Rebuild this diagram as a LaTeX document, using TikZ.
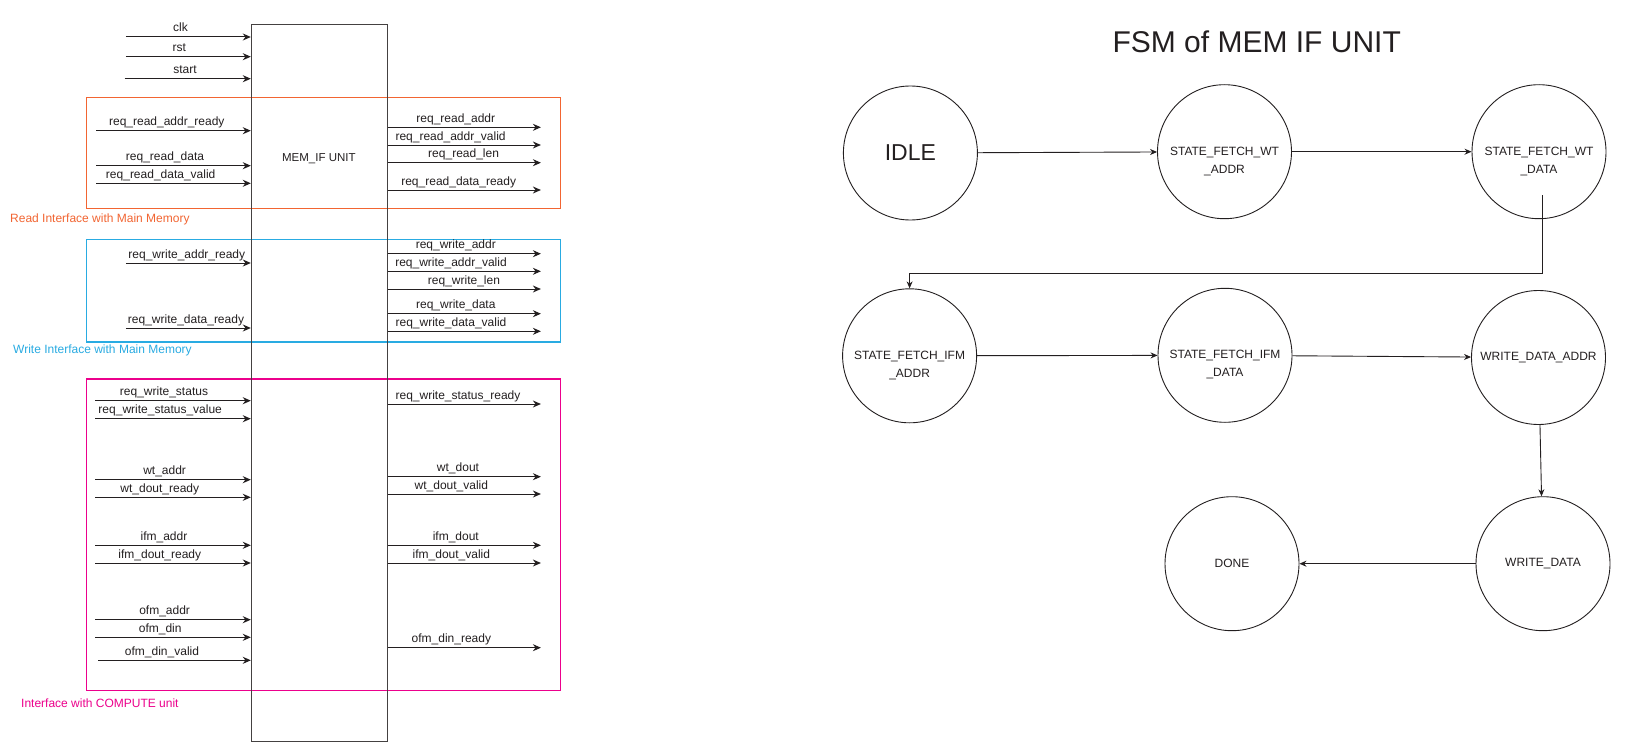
\documentclass[tikz,border=0pt]{standalone}
\usepackage{fontspec}
\setmainfont{Liberation Sans}
\usetikzlibrary{arrows.meta,calc}
\definecolor{rdcol}{RGB}{242,101,50}
\definecolor{wrcol}{RGB}{41,171,226}
\definecolor{cpcol}{RGB}{236,0,140}
\definecolor{ink}{RGB}{35,31,32}
\begin{document}
\begin{tikzpicture}[x=1pt,y=-1pt,
  sig/.style={ink, line width=1pt, -{Stealth[length=8pt,width=7pt]}},
  siglabel/.style={font=\fontsize{12}{14}\selectfont, text=ink, anchor=base, inner sep=0pt},
  grp/.style={line width=1.2pt, inner sep=0pt, anchor=north west},
  grplabel/.style={font=\fontsize{12}{14}\selectfont, anchor=west, inner sep=0pt},
  state/.style={circle, draw=ink, line width=0.9pt, minimum size=134pt, inner sep=0pt,
    align=center, text=ink, font=\fontsize{12}{18}\selectfont},
  trans/.style={ink, line width=0.9pt, -{Stealth[length=7pt,width=6pt]}}
]
\useasboundingbox (0,0) rectangle (1634,752);
\fill[white] (0,0) rectangle (1634,752);

% interface groups
\node[grp, draw=rdcol, minimum width=474.3pt, minimum height=111.3pt] (rdgrp) at (85.5,96.7) {};
\node[grp, draw=wrcol, minimum width=474.3pt, minimum height=102.6pt] (wrgrp) at (85.5,238.7) {};
\node[grp, draw=cpcol, minimum width=474.3pt, minimum height=311.7pt] (cpgrp) at (85.5,378.3) {};
\node[grplabel, text=rdcol] (rdlab) at (10,219) {Read Interface with Main Memory};
\node[grplabel, text=wrcol] (wrlab) at (13,350) {Write Interface with Main Memory};
\node[grplabel, text=cpcol] (cplab) at (21,703.3) {Interface with COMPUTE unit};

% main block
\node[draw=ink!85, line width=1.3pt, minimum width=135.8pt, minimum height=717.3pt,
  inner sep=0pt, anchor=north west] (memif) at (250.8,23.7) {};
\node[font=\fontsize{11.5}{14}\selectfont, text=ink] (memiftext) at (318.9,158.3) {MEM\_IF UNIT};

% inputs
\foreach \n/\xs/\yy/\lx/\txt in {
  1/125.8/37/180.5/clk,
  2/125.8/56.7/179.4/rst,
  3/124.7/78.7/185/start,
  4/96.2/130.7/166.8/req\_read\_addr\_ready,
  5/96.2/165.7/165/req\_read\_data,
  6/96.2/183.3/160.7/req\_read\_data\_valid,
  7/125.8/263/186.8/req\_write\_addr\_ready,
  8/125.8/328/186/req\_write\_data\_ready,
  9/95.4/400.7/164/req\_write\_status,
  10/95.4/418.7/160.2/req\_write\_status\_value,
  11/95.4/479.7/164.6/wt\_addr,
  12/95.4/497.3/159.8/wt\_dout\_ready,
  13/95.4/545.3/164/ifm\_addr,
  14/95.4/563/159.8/ifm\_dout\_ready,
  15/95.4/619.7/164.6/ofm\_addr,
  16/95.4/637.3/160.2/ofm\_din,
  17/98/660.3/162/ofm\_din\_valid}{
  \coordinate (in\n) at (\xs,\yy);
  \draw[sig] (in\n) -- (in\n -| memif.west);
  \node[siglabel] (inl\n) at (\lx,\yy-5) {\txt};
}

% outputs
\foreach \n/\yy/\lx/\txt in {
  1/127.3/455.8/req\_read\_addr,
  2/145/450.6/req\_read\_addr\_valid,
  3/162.7/463.6/req\_read\_len,
  4/190/458.7/req\_read\_data\_ready,
  5/253.7/455.8/req\_write\_addr,
  6/271.3/451/req\_write\_addr\_valid,
  7/289/464/req\_write\_len,
  8/313.7/455.8/req\_write\_data,
  9/331.3/451/req\_write\_data\_valid,
  10/404/458/req\_write\_status\_ready,
  11/476.7/458/wt\_dout,
  12/494/451.4/wt\_dout\_valid,
  13/545.3/455.8/ifm\_dout,
  14/563/451.4/ifm\_dout\_valid,
  15/647.7/451.4/ofm\_din\_ready}{
  \coordinate (out\n) at (540.9,\yy);
  \draw[sig] (out\n -| memif.east) -- (out\n);
  \node[siglabel] (outl\n) at (\lx,\yy-5) {\txt};
}

% FSM
\node[font=\fontsize{30}{36}\selectfont, text=ink] (title) at (1256.7,41.7) {FSM of MEM IF UNIT};

\node[state, font=\fontsize{23}{28}\selectfont] (idle) at (910.4,153) {IDLE};
\node[state] (wtaddr) at (1224.5,151.7) {\strut\\\strut STATE\_FETCH\_WT\\\strut\_ADDR};
\node[state] (wtdata) at (1539,151.7) {\strut\\\strut STATE\_FETCH\_WT\\\strut\_DATA};
\node[state] (ifmaddr) at (909.6,355.8) {\strut\\\strut STATE\_FETCH\_IFM\\\strut\_ADDR};
\node[state] (ifmdata) at (1225,355.3) {\strut\\\strut STATE\_FETCH\_IFM\\\strut\_DATA};
\node[state] (wda) at (1538.5,357.5) {WRITE\_DATA\_ADDR};
\node[state] (wdata) at (1543,563.7) {WRITE\_DATA};
\node[state] (done) at (1232,563.7) {DONE};

\coordinate (wtdout) at (1542.7,195);
\draw[trans] (idle) -- (wtaddr);
\draw[trans] (wtaddr) -- (wtdata);
\draw[trans] (wtdout) |- ($(ifmaddr.north)+(0,-14.5)$) -- (ifmaddr.north);
\draw[trans] (ifmaddr) -- (ifmdata);
\draw[trans] (ifmdata) -- (wda);
\draw[trans] (wda) -- (wdata);
\draw[trans] (wdata) -- (done);
\end{tikzpicture}
\end{document}
